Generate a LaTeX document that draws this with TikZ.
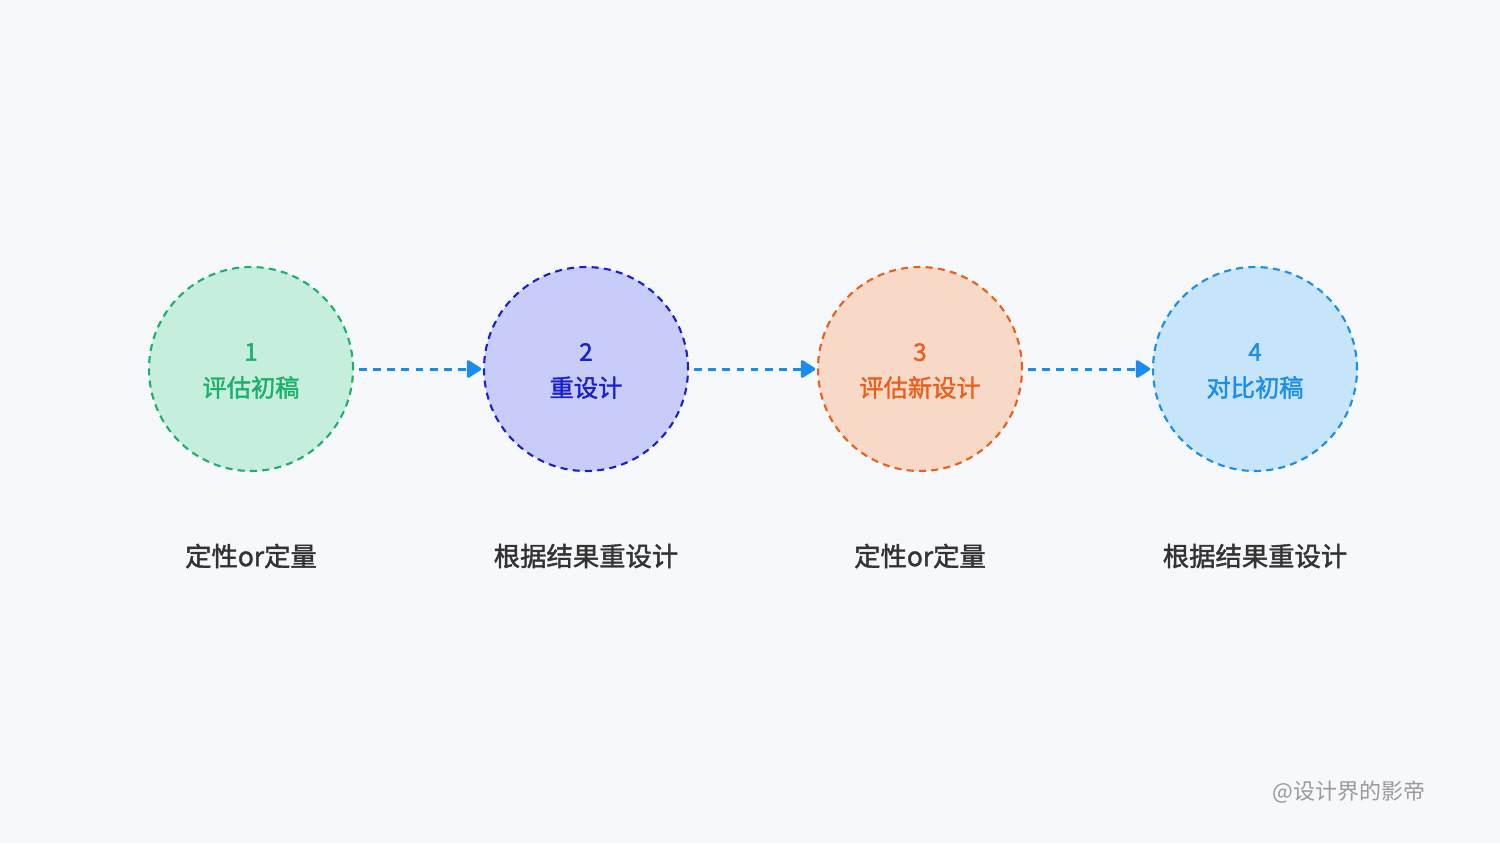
\documentclass[tikz,border=0pt]{standalone}
\usepackage{fontspec}
\setmainfont{Noto Sans CJK SC}
\newfontfamily\cjk{Noto Sans CJK SC}
\newfontfamily\cjkmed[FakeBold=1.6]{Noto Sans CJK SC}
\usetikzlibrary{arrows.meta}
\definecolor{bg}{HTML}{F7F8FC}
\definecolor{gfill}{HTML}{C6EEDD}\definecolor{gline}{HTML}{1DB06C}
\definecolor{bfill}{HTML}{C8CCF8}\definecolor{bline}{HTML}{1A20CC}
\definecolor{ofill}{HTML}{F8D9C8}\definecolor{oline}{HTML}{E8601C}
\definecolor{lfill}{HTML}{C6E4FA}\definecolor{lline}{HTML}{1A8EE8}
\definecolor{arr}{HTML}{1A8CF0}
\definecolor{txt}{HTML}{333333}
\definecolor{wm}{HTML}{9A9A9A}
\tikzset{
  stage/.style={circle, minimum size=204*0.02cm, inner sep=0pt, line width=1.2pt, dash pattern=on 4pt off 3pt},
  stagetext/.style={align=center, inner sep=0pt, font=\cjkmed\fontsize{13.8}{20.5}\selectfont},
  flow/.style={draw=arr, line width=1.7pt, dash pattern=on 4.5pt off 3.5pt, -{Triangle[length=9pt,width=11pt,round]}, shorten >=1pt, shorten <=3pt},
  sub/.style={font=\cjkmed\fontsize{15}{18}\selectfont, text=txt},
}
\begin{document}
\begin{tikzpicture}[x=0.02cm,y=-0.02cm]
\fill[bg] (0,0) rectangle (1500,843);
\useasboundingbox (0,0) rectangle (1500,843);
\node[stage, fill=gfill, draw=gline] (c1) at (251,369) {};
\node[stage, fill=bfill, draw=bline] (c2) at (586,369) {};
\node[stage, fill=ofill, draw=oline] (c3) at (920,369) {};
\node[stage, fill=lfill, draw=lline] (c4) at (1255,369) {};
\node[stagetext, text=gline] (t1) at ([yshift=-2*0.02cm]c1.center) {1\\评估初稿};
\node[stagetext, text=bline] (t2) at ([yshift=-2*0.02cm]c2.center) {2\\重设计};
\node[stagetext, text=oline] (t3) at ([yshift=-2*0.02cm]c3.center) {3\\评估新设计};
\node[stagetext, text=lline] (t4) at ([yshift=-2*0.02cm]c4.center) {4\\对比初稿};
\draw[flow] (c1) -- (c2);
\draw[flow] (c2) -- (c3);
\draw[flow] (c3) -- (c4);
\node[sub] (l1) at (251,556) {定性or定量};
\node[sub] (l2) at (586,556) {根据结果重设计};
\node[sub] (l3) at (920,556) {定性or定量};
\node[sub] (l4) at (1255,556) {根据结果重设计};
\node[font=\cjk\fontsize{12.5}{15}\selectfont, text=wm] (wm) at (1349,792) {@设计界的影帝};
\end{tikzpicture}
\end{document}
